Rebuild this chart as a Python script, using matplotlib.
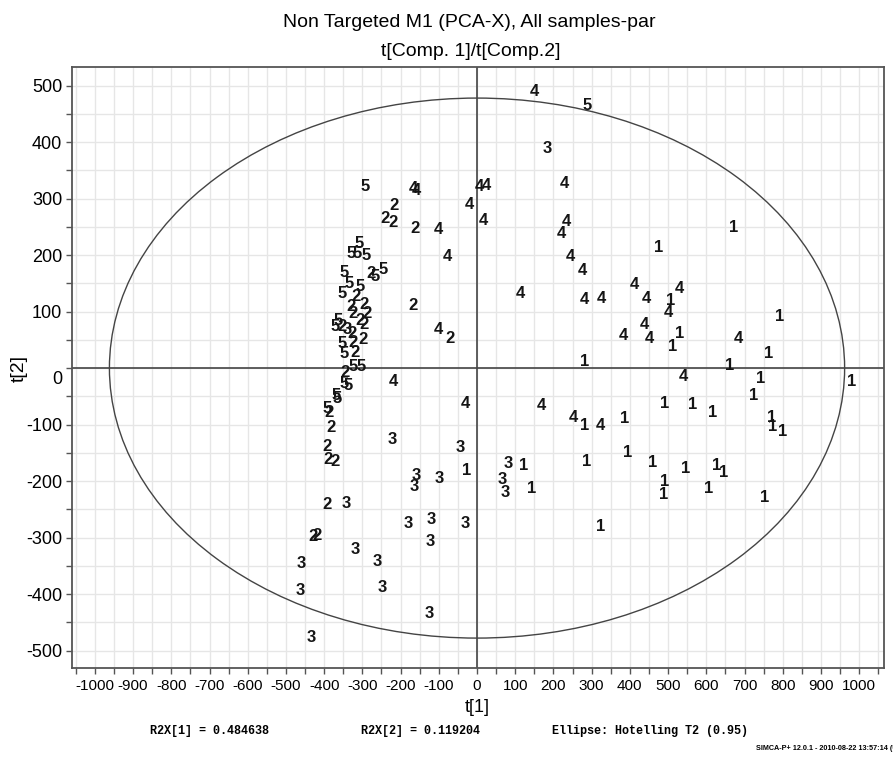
import matplotlib
matplotlib.use("Agg")
import matplotlib.pyplot as plt
import matplotlib.transforms as mtransforms
from matplotlib.patches import Ellipse
from matplotlib.ticker import MultipleLocator

plt.rcParams["font.family"] = ["Liberation Sans", "DejaVu Sans"]
plt.rcParams["axes.unicode_minus"] = False

# scores t[1], t[2] per class label
t1_class1 = [475, 671, 507, 529, 512, 281, 791, 763, 660, 981, 741, 723, 492, 565,
             617, 387, 281, 770, 774, 800, 393, 287, 459, 547, 626, 645, 490, 488,
             605, 752, 123, 143, -27, 324]
t2_class1 = [214, 248, 120, 61, 38, 11, 91, 26, 5, -23, -19, -48, -62, -65,
             -79, -89, -101, -87, -103, -112, -150, -165, -168, -178, -173, -185, -201, -224,
             -213, -229, -173, -214, -181, -280]

t1_class2 = [-216, -241, -221, -162, -277, -317, -167, -330, -295, -324, -289, -306,
             -296, -354, -328, -299, -324, -319, -346, -72, -387, -383, -393, -389,
             -372, -393, -428, -420]
t2_class2 = [287, 265, 258, 247, 168, 126, 110, 109, 113, 97, 96, 85,
             78, 73, 62, 50, 45, 27, -7, 53, -79, -105, -139, -162,
             -166, -241, -299, -296]

t1_class3 = [184, -223, -45, -160, -165, -99, 82, 67, 75, -341, -180, -121, -31,
             -123, -319, -261, -459, -463, -247, -126, -435, -340]
t2_class3 = [389, -127, -141, -191, -209, -195, -169, -198, -220, -240, -276, -268, -275,
             -307, -322, -343, -346, -393, -388, -434, -477, 69]

t1_class4 = [150, 229, 5, 25, -20, 17, -101, 233, 222, -78, 243, 276, 113, 412,
             530, 280, 325, 442, 501, 437, 383, 450, 684, 540, -31, 168, 252, 324,
             -101, -219, -167, -160]
t2_class4 = [489, 327, 321, 323, 290, 261, 245, 259, 238, 197, 198, 173, 132, 148,
             141, 122, 124, 123, 98, 78, 57, 53, 53, -15, -62, -67, -87, -101,
             68, -24, 318, 314]

t1_class5 = [287, -293, -308, -330, -314, -289, -267, -245, -348, -334, -306, -352,
             -363, -372, -352, -348, -324, -304, -348, -337, -369, -367, -392]
t2_class5 = [465, 322, 221, 203, 203, 200, 163, 175, 169, 149, 145, 132,
             84, 73, 44, 26, 2, 2, -27, -31, -48, -54, -71]

classes = {
    "1": (t1_class1, t2_class1),
    "2": (t1_class2, t2_class2),
    "3": (t1_class3, t2_class3),
    "4": (t1_class4, t2_class4),
    "5": (t1_class5, t2_class5),
}

# Hotelling T2 (0.95) ellipse semi-axes
t2_ellipse_a = 962
t2_ellipse_b = 478

fig = plt.figure(figsize=(8.93, 7.58), dpi=100)
ax = fig.add_axes([0.0806, 0.1187, 0.9093, 0.7929])

ax.set_xlim(-1060, 1065)
ax.set_ylim(-531, 533)

ax.xaxis.set_major_locator(MultipleLocator(50))
ax.yaxis.set_major_locator(MultipleLocator(50))
ax.xaxis.set_major_formatter(lambda v, pos: f"{v:.0f}" if round(v) % 100 == 0 else "")
ax.yaxis.set_major_formatter(lambda v, pos: f"{v:.0f}" if round(v) % 100 == 0 else "")
ax.grid(True, color="#e6e6e6", lw=1.0, zorder=0)
ax.set_axisbelow(True)

for spine in ax.spines.values():
    spine.set_color("#555555")
    spine.set_linewidth(1.3)
ax.tick_params(axis="both", direction="out", length=4, width=1, color="#555555")
ax.tick_params(axis="x", labelsize=11, pad=4)
ax.tick_params(axis="y", labelsize=13, pad=3)

ax.axhline(0, color="#444444", lw=1.2, zorder=1)
ax.axvline(0, color="#444444", lw=1.2, zorder=1)
ax.add_patch(Ellipse((0, 0), 2 * t2_ellipse_a, 2 * t2_ellipse_b, fill=False,
                     edgecolor="#444444", lw=1.0, zorder=2))

for name, (xs, ys) in classes.items():
    for x, y in zip(xs, ys):
        ax.text(x, y, name, ha="center", va="center", fontsize=12,
                fontweight="bold", color="#151515", zorder=3)

ax.set_xlabel("t[1]", fontsize=13)
ax.set_ylabel("t[2]", fontsize=14)
ax.xaxis.set_label_coords(0.4988, -0.051)
ax.yaxis.set_label_coords(-0.054, 0.499)

# SIMCA draws the y "0" label a bit under the zero line
fig.canvas.draw()
for lab in ax.get_yticklabels():
    if lab.get_text() == "0":
        lab.set_transform(lab.get_transform()
                          + mtransforms.ScaledTranslation(0, -9 / 100, fig.dpi_scale_trans))

fig.text(0.525, 0.9697, "Non Targeted M1 (PCA-X), All samples-par",
         ha="center", va="center", fontsize=14)
fig.text(0.527, 0.9314, "t[Comp. 1]/t[Comp.2]", ha="center", va="center", fontsize=14)

mono = ["Liberation Mono", "DejaVu Sans Mono"]
footer_y = 0.036
fig.text(0.235, footer_y, "R2X[1] = 0.484638", ha="center", va="center",
         fontsize=8.5, family=mono, fontweight="bold")
fig.text(0.471, footer_y, "R2X[2] = 0.119204", ha="center", va="center",
         fontsize=8.5, family=mono, fontweight="bold")
fig.text(0.728, footer_y, "Ellipse: Hotelling T2 (0.95)", ha="center", va="center",
         fontsize=8.5, family=mono, fontweight="bold")
fig.text(0.847, 0.012, "SIMCA-P+ 12.0.1 - 2010-08-22 13:57:14 (UTC+01)",
         ha="left", va="center", fontsize=5.2, fontweight="bold")

fig.savefig("out.png", dpi=100)
